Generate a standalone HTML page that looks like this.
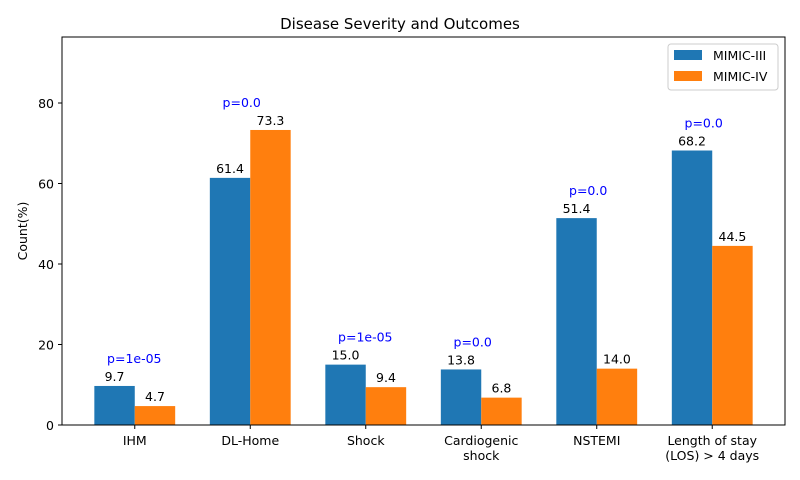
<!DOCTYPE html>
<html><head><meta charset="utf-8"><style>
html,body{margin:0;padding:0;background:#fff;}
svg{display:block;font-family:"DejaVu Sans","Liberation Sans",sans-serif;}
</style></head><body>
<svg id="chart" width="800" height="480" xmlns="http://www.w3.org/2000/svg"></svg>
<script>
const categories = ["IHM","DL-Home","Shock","Cardiogenic\nshock","NSTEMI","Length of stay\n(LOS) > 4 days"];
const mimic3 = [9.7,61.4,15.0,13.8,51.4,68.2];
const mimic4 = [4.7,73.3,9.4,6.8,14.0,44.5];
const pvalues = ["p=1e-05","p=0.0","p=1e-05","p=0.0","p=0.0","p=0.0"];
const yTicks = [0,20,40,60,80];

const L=62,R=785,T=37,B=425,yMax=96.4,xMin=-0.63,xMax=5.63;
const X=v=>L+(v-xMin)/(xMax-xMin)*(R-L);
const Y=v=>B-v/yMax*(B-T);
const NS="http://www.w3.org/2000/svg";
const svg=document.getElementById('chart');
function mk(tag,attrs,parent){const e=document.createElementNS(NS,tag);for(const k in attrs)e.setAttribute(k,attrs[k]);(parent||svg).appendChild(e);return e;}
function txt(s,x,y,attrs){const t=mk('text',Object.assign({x:x,y:y,'font-size':12.5,fill:'#000'},attrs||{}));t.textContent=s;return t;}

const title=txt("Disease Severity and Outcomes",400,29,{'text-anchor':'middle','font-size':15});



const bw=0.35;
categories.forEach((c,i)=>{
  const b1=mk('rect',{x:X(i-bw),y:Y(mimic3[i]),width:X(i)-X(i-bw),height:B-Y(mimic3[i]),fill:'#1f77b4'});
  
  
  const b2=mk('rect',{x:X(i),y:Y(mimic4[i]),width:X(i+bw)-X(i),height:B-Y(mimic4[i]),fill:'#ff7f0e'});
  
  
  const v1=txt(mimic3[i].toFixed(1),X(i-bw/2),Y(mimic3[i])-5,{'text-anchor':'middle'});
  
  
  const v2=txt(mimic4[i].toFixed(1),X(i+bw/2),Y(mimic4[i])-5,{'text-anchor':'middle'});
  
  
  const pm=Math.max(mimic3[i],mimic4[i])+7;
  const p=txt(pvalues[i],X(i-0.24),Y(pm)+5,{'text-anchor':'start',fill:'#0000ff'});
  
  
  mk('line',{x1:X(i),x2:X(i),y1:B,y2:B+4,stroke:'#000'});
  c.split("\n").forEach((ln,k)=>{
    const t=txt(ln,X(i),B+20+k*15,{'text-anchor':'middle'});
    
    
  });
});

yTicks.forEach(v=>{
  mk('line',{x1:L-4,x2:L,y1:Y(v),y2:Y(v),stroke:'#000'});
  const t=txt(String(v),L-8,Y(v)+5,{'text-anchor':'end'});
  
  
});

const frame=mk('rect',{x:L,y:T,width:R-L,height:B-T,fill:'none',stroke:'#000','stroke-width':1});



const yl=txt("Count(%)",0,0,{'text-anchor':'middle',transform:'translate(27,231) rotate(-90)'});



const lg=mk('g',{});


mk('rect',{x:668,y:44,width:110,height:46,rx:3,fill:'#fff',stroke:'#ccc'},lg);
const e1=mk('rect',{x:674,y:50,width:28,height:10,fill:'#1f77b4'},lg);


const t1=txt("MIMIC-III",713,60,{});lg.appendChild(t1);


const e2=mk('rect',{x:674,y:71,width:28,height:10,fill:'#ff7f0e'},lg);


const t2=txt("MIMIC-IV",713,81,{});lg.appendChild(t2);


</script>
</body></html>
